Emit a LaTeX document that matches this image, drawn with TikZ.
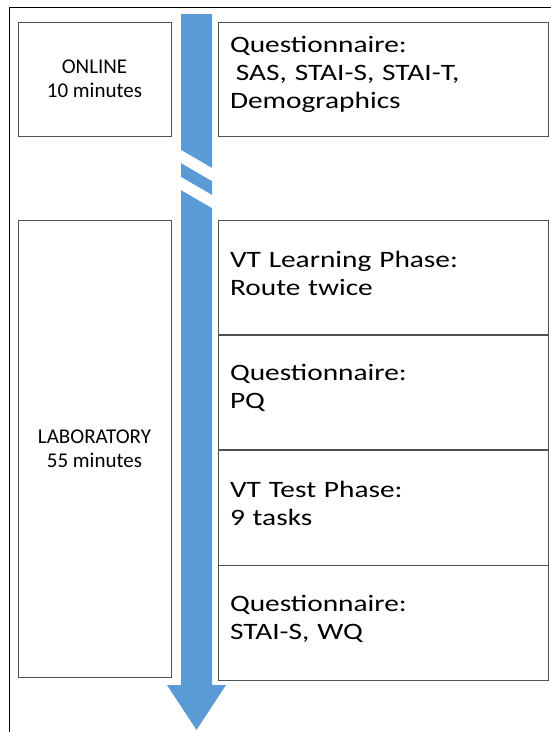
\documentclass[tikz,border=0pt]{standalone}
\usepackage{fontspec}
\setmainfont{Carlito}
\newfontfamily\widefont[FakeStretch=1.25]{Carlito}
\usetikzlibrary{positioning}

\definecolor{flowblue}{HTML}{5B9BD5}
\definecolor{boxgray}{HTML}{505050}

\tikzset{
  phase/.style={draw=boxgray, line width=0.9pt, minimum width=153pt,
    inner sep=0pt, align=center, font=\fontsize{21}{24}\selectfont},
  task/.style={draw=boxgray, line width=0.9pt, text width=306pt,
    inner xsep=12pt, inner ysep=0pt, minimum height=114.25pt, align=left,
    font=\widefont\fontsize{23.5}{28}\selectfont,
    execute at end node={\par\kern9pt}},
}

\begin{document}
\begin{tikzpicture}[x=1pt,y=-1pt]
    \useasboundingbox (0,0) rectangle (550,732);
    % frame, only its top and left sides fall on the page
    \draw[line width=1.5pt] (9.5,740) -- (9.5,7.5) -- (560,7.5);

    % timeline arrow with a break between the two sessions
    \fill[flowblue] (181,14) -- (212,14) -- (212,685) -- (226,685)
        -- (196.5,730) -- (167,685) -- (181,685) -- cycle;
    \fill[white] (180,149.4) -- (213,168.6) -- (213,181.6) -- (180,162.4) -- cycle;
    \fill[white] (180,176.4) -- (213,195.6) -- (213,208.6) -- (180,189.4) -- cycle;

    % sessions
    \node[phase, minimum height=114pt] (online) at (94.5,79) {ONLINE\\10 minutes};
    \node[phase, minimum height=457pt] (lab) at (94.5,448.5) {LABORATORY\\55 minutes};

    % tasks
    \node[task, minimum height=114pt] (survey) at (383,79)
        {Questionnaire:\\\hspace*{.25em}SAS, STAI-S, STAI-T,\\Demographics};
    \node[task, anchor=north] (learn) at (383,220) {VT Learning Phase:\\Route twice};
    \node[task, below=0pt of learn] (pq) {Questionnaire:\\PQ};
    \node[task, below=0pt of pq] (test) {VT Test Phase:\\9 tasks};
    \node[task, below=0pt of test] (wq) {Questionnaire:\\STAI-S, WQ};
\end{tikzpicture}
\end{document}
